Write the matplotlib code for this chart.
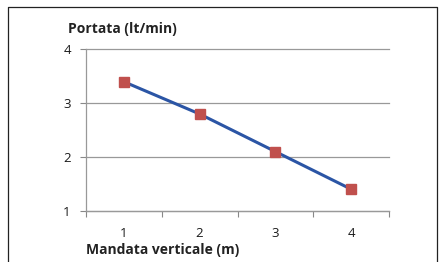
import matplotlib.pyplot as plt
from matplotlib.lines import Line2D

mandata = [1, 2, 3, 4]
portata = [3.4, 2.8, 2.1, 1.4]
y_ticks = [1, 2, 3, 4]

W, H = 443, 262
plt.rcParams['font.family'] = ['Open Sans', 'DejaVu Sans']

fig = plt.figure(figsize=(W / 100, H / 100), dpi=100)
ax = fig.add_axes([86 / W, 1 - 210.7 / H, (389 - 86) / W, (210.7 - 49.5) / H])

ax.plot(mandata, portata, color='#2B55A5', linewidth=2.2, zorder=3,
        marker='s', markersize=7.5, markerfacecolor='#C0504D', markeredgecolor='#C0504D')

ax.set_xlim(0.5, 4.5)
ax.set_ylim(1, 4)
ax.set_yticks(y_ticks)
ax.set_xticks([0.5, 1.5, 2.5, 3.5, 4.5])
ax.set_xticklabels([])
ax.set_xticks(mandata, minor=True)
ax.set_xticklabels([str(m) for m in mandata], minor=True)
ax.tick_params(axis='x', which='minor', length=0, pad=12, labelsize=9.5, colors='#1a1a1a')
ax.tick_params(axis='x', which='major', length=4, color='#888888', direction='out')
ax.tick_params(axis='y', length=4, color='#888888', labelsize=9.5, colors='#1a1a1a', pad=7)
ax.grid(axis='y', color='#999999', linewidth=0.9)
for gl in ax.get_ygridlines():
    gl.set_clip_on(False)
ax.set_axisbelow(True)

for s in ['top', 'right']:
    ax.spines[s].set_visible(False)
for s in ['left', 'bottom']:
    ax.spines[s].set_color('#999999')
    ax.spines[s].set_linewidth(0.9)

fig.text(68 / W, 1 - 29 / H, 'Portata (lt/min)', fontsize=10, fontweight='bold',
         color='#222222', va='center', ha='left')
fig.text(86 / W, 1 - 250 / H, 'Mandata verticale (m)', fontsize=10, fontweight='bold',
         color='#222222', va='center', ha='left')

# outer frame
fx = [8 / W, 8 / W, 437 / W, 437 / W]
fy = [0, 1 - 7 / H, 1 - 7 / H, 0]
fig.add_artist(Line2D(fx, fy, color='#222222', linewidth=0.9))

fig.savefig('out.png', dpi=100)
